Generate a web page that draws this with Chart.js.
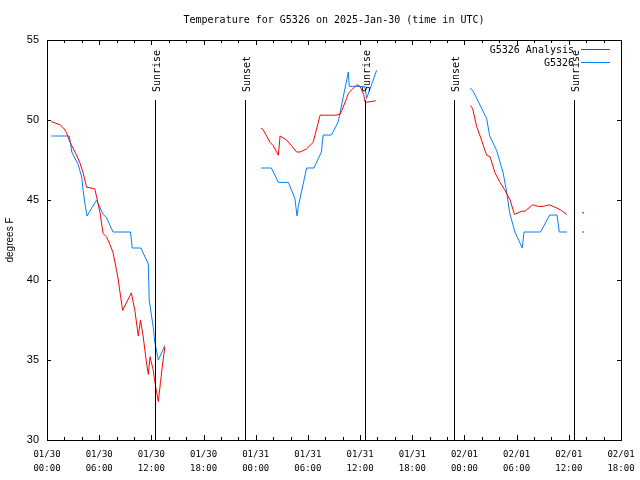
<!DOCTYPE html>
<html>
<head>
<meta charset="utf-8">
<title>Temperature for G5326</title>
<script src="https://cdn.jsdelivr.net/npm/chart.js@4.4.1/dist/chart.umd.min.js"></script>
<style>
  html, body { margin: 0; padding: 0; background: #fff; }
  #wrap { width: 640px; height: 480px; }
</style>
</head>
<body>
<div id="wrap"><canvas id="tempChart" width="640" height="480"></canvas></div>
<script>
// hours since 01/30 00:00 UTC, null = gap in the record
const analysisHours = [0.5, 1.5, 1.9, 2.25, 2.65, 3.4, 3.8, 4.15, 4.55, 5.5, 5.7, 6.1, 6.45, 6.85, 7.25, 7.6, 8.0, 8.2, 8.4, 8.7, 9.7, 10.1, 10.5, 10.75, 11.05, 11.4, 11.65, 11.85, 12.2, 12.5, 12.8, 13.05, 13.3, 13.55,
  18,
  24.6, 24.85, 25.65, 26.0, 26.6, 26.8, 27.55, 28.1, 28.7, 29.1, 29.85, 30.6, 31.4, 33.1, 33.7, 33.9, 34.45, 34.65, 35.6, 36.0, 36.4, 36.6, 37.8,
  42,
  48.7, 48.95, 49.4, 49.8, 50.55, 50.95, 51.5, 52.1, 52.65, 53.25, 53.75, 54.6, 54.95, 55.85, 56.5, 57.05, 57.75, 58.2, 59.0, 59.75,
  60.7, 61.65, 62.5];
const analysisTemps = [49.9, 49.7, 49.5, 49.2, 48.6, 47.8, 47.3, 46.7, 45.8, 45.7, 45.2, 44.2, 42.9, 42.7, 42.2, 41.7, 40.6, 40.0, 39.2, 38.1, 39.2, 38.1, 36.5, 37.5, 36.5, 35.0, 34.1, 35.2, 34.4, 33.3, 32.4, 33.6, 34.8, 35.8,
  null,
  49.5, 49.4, 48.6, 48.4, 47.8, 49.0, 48.75, 48.4, 48.0, 48.0, 48.2, 48.6, 50.3, 50.3, 50.35, 50.6, 51.35, 51.67, 52.2, 52.1, 51.6, 51.1, 51.2,
  null,
  50.9, 50.7, 49.6, 49.0, 47.8, 47.7, 46.7, 46.1, 45.6, 45.0, 44.1, 44.3, 44.3, 44.7, 44.6, 44.6, 44.7, 44.6, 44.4, 44.1,
  null, 44.2, null];

const stationHours = [0.5, 2.55, 2.7, 2.85, 3.6, 4.0, 4.15, 4.35, 4.6, 5.7, 6.45, 6.85, 7.25, 7.6, 9.6, 9.8, 10.8, 11.65, 11.75, 12.2, 12.4, 12.8, 13.55,
  18,
  24.6, 25.8, 26.6, 27.75, 28.5, 28.75, 28.9, 29.85, 30.7, 31.55, 31.75, 32.7, 33.5, 33.9, 34.65, 34.75, 35.6, 36.55, 36.75, 37.9,
  42,
  48.7, 49.0, 50.55, 50.9, 51.7, 52.45, 52.85, 53.2, 53.8, 54.65, 54.85, 56.75, 57.8, 58.65, 58.9, 59.8,
  60.7, 61.65, 62.5];
const stationTemps = [49.0, 49.0, 48.6, 48.0, 47.2, 46.4, 45.6, 44.8, 44.0, 45.0, 44.1, 43.9, 43.4, 43.0, 43.0, 42.0, 42.0, 41.0, 38.75, 37.1, 36.1, 35.0, 35.9,
  null,
  47.0, 47.0, 46.1, 46.1, 45.1, 44.0, 44.6, 47.0, 47.0, 48.0, 49.06, 49.06, 49.9, 51.0, 53.0, 52.1, 52.1, 52.1, 51.35, 53.1,
  null,
  52.0, 51.8, 50.1, 49.0, 48.1, 46.7, 45.5, 44.2, 43.0, 42.0, 43.0, 43.0, 44.06, 44.06, 43.0, 43.0,
  null, 43.0, null];

const seriesNames = ["G5326 Analysis", "G5326"];
const seriesColors = ["#ff0000", "#0080ff"];

const sunHours = [12.42, 22.77, 36.52, 46.85, 60.6];
const sunNames = ["Sunrise", "Sunset", "Sunrise", "Sunset", "Sunrise"];

const xTickLabels = [
  ["01/30", "00:00"], ["01/30", "06:00"], ["01/30", "12:00"], ["01/30", "18:00"],
  ["01/31", "00:00"], ["01/31", "06:00"], ["01/31", "12:00"], ["01/31", "18:00"],
  ["02/01", "00:00"], ["02/01", "06:00"], ["02/01", "12:00"], ["02/01", "18:00"]
];
const yTicks = [30, 35, 40, 45, 50, 55];
const chartTitle = "Temperature for G5326 on 2025-Jan-30 (time in UTC)";

const MONO = "'DejaVu Sans Mono', monospace";

function toPoints(hours, temps) {
  return hours.map((h, i) => ({ x: h, y: temps[i] }));
}

// a reading with no neighbours still gets a dot
function loneRadius(ctx) {
  const d = ctx.dataset.data;
  const i = ctx.dataIndex;
  if (d[i].y === null) return 0;
  const prev = i > 0 ? d[i - 1].y : null;
  const next = i < d.length - 1 ? d[i + 1].y : null;
  return prev === null && next === null ? 1 : 0;
}

const framePlugin = {
  id: "frame",
  afterDatasetsDraw(chart) {
    const { ctx, chartArea: a, scales } = chart;
    const xs = scales.x, ys = scales.y;
    ctx.save();
    ctx.strokeStyle = "#000";
    ctx.lineWidth = 1;

    // sunrise / sunset markers
    ctx.font = "10px " + MONO;
    ctx.fillStyle = "#000";
    sunHours.forEach((h, i) => {
      const px = Math.round(xs.getPixelForValue(h)) + 0.5;
      ctx.beginPath();
      ctx.moveTo(px, 100);
      ctx.lineTo(px, a.bottom);
      ctx.stroke();
      ctx.save();
      ctx.translate(px + 2, 92);
      ctx.rotate(-Math.PI / 2);
      ctx.textAlign = "left";
      ctx.textBaseline = "middle";
      ctx.fillText(sunNames[i], 0, 0);
      ctx.restore();
    });

    // border
    ctx.strokeRect(Math.round(a.left) + 0.5, Math.round(a.top) + 0.5,
      Math.round(a.right - a.left), Math.round(a.bottom - a.top));

    // inward ticks
    ctx.beginPath();
    for (let v = xs.min; v <= xs.max; v += 2) {
      const px = Math.round(xs.getPixelForValue(v)) + 0.5;
      const len = v % 6 === 0 ? 5 : 3;
      ctx.moveTo(px, a.bottom);
      ctx.lineTo(px, a.bottom - len);
      ctx.moveTo(px, a.top);
      ctx.lineTo(px, a.top + len);
    }
    yTicks.forEach((v) => {
      const py = Math.round(ys.getPixelForValue(v)) + 0.5;
      ctx.moveTo(a.left, py);
      ctx.lineTo(a.left + 4, py);
      ctx.moveTo(a.right, py);
      ctx.lineTo(a.right - 4, py);
    });
    ctx.stroke();

    // title
    ctx.font = "10px " + MONO;
    ctx.textAlign = "center";
    ctx.textBaseline = "middle";
    ctx.fillText(chartTitle, (a.left + a.right) / 2, 20);

    // legend, sample line on the right like the original
    ctx.textAlign = "right";
    seriesNames.forEach((name, i) => {
      const y = 50 + i * 13;
      ctx.fillStyle = "#000";
      ctx.fillText(name, 574, y);
      ctx.strokeStyle = seriesColors[i];
      ctx.beginPath();
      ctx.moveTo(581, y - 0.5);
      ctx.lineTo(610, y - 0.5);
      ctx.stroke();
    });
    ctx.restore();
  }
};

document.addEventListener("DOMContentLoaded", function () {
  const ctx = document.getElementById("tempChart");
  new Chart(ctx, {
    type: "line",
    data: {
      datasets: [
        {
          label: seriesNames[0],
          data: toPoints(analysisHours, analysisTemps),
          borderColor: seriesColors[0],
          backgroundColor: seriesColors[0],
          borderWidth: 1,
          pointRadius: loneRadius,
          pointBorderWidth: 0,
          pointStyle: "rect",
          spanGaps: false,
          tension: 0
        },
        {
          label: seriesNames[1],
          data: toPoints(stationHours, stationTemps),
          borderColor: seriesColors[1],
          backgroundColor: seriesColors[1],
          borderWidth: 1,
          pointRadius: loneRadius,
          pointBorderWidth: 0,
          pointStyle: "rect",
          spanGaps: false,
          tension: 0
        }
      ]
    },
    options: {
      responsive: false,
      animation: false,
      events: [],
      layout: { padding: { top: 40, right: 0, left: 0, bottom: 0 } },
      plugins: {
        legend: { display: false },
        title: { display: false },
        tooltip: { enabled: false }
      },
      scales: {
        x: {
          type: "linear",
          min: 0,
          max: 66,
          grid: { display: false, drawTicks: false },
          border: { display: false },
          afterFit: (scale) => {
            scale.height = 40;
            scale.paddingLeft = 0;
            scale.paddingRight = 19;
          },
          afterBuildTicks: (scale) => {
            scale.ticks = xTickLabels.map((_, i) => ({ value: i * 6 }));
          },
          ticks: {
            autoSkip: false,
            maxRotation: 0,
            padding: 8,
            color: "#000",
            font: { family: MONO, size: 9, lineHeight: 1.55 },
            callback: (v) => xTickLabels[Math.round(v / 6)]
          }
        },
        y: {
          min: 30,
          max: 55,
          grid: { display: false, drawTicks: false },
          border: { display: false },
          afterFit: (scale) => { scale.width = 47; },
          afterBuildTicks: (scale) => {
            scale.ticks = yTicks.map((v) => ({ value: v }));
          },
          ticks: {
            padding: 8,
            color: "#000",
            font: { family: "'Liberation Sans', Arial, sans-serif", size: 11 }
          },
          title: {
            display: true,
            text: "degrees F",
            color: "#000",
            padding: { top: 4, bottom: 0 },
            font: { family: "'Liberation Sans', Arial, sans-serif", size: 10 }
          }
        }
      }
    },
    plugins: [framePlugin]
  });
});
</script>
</body>
</html>
